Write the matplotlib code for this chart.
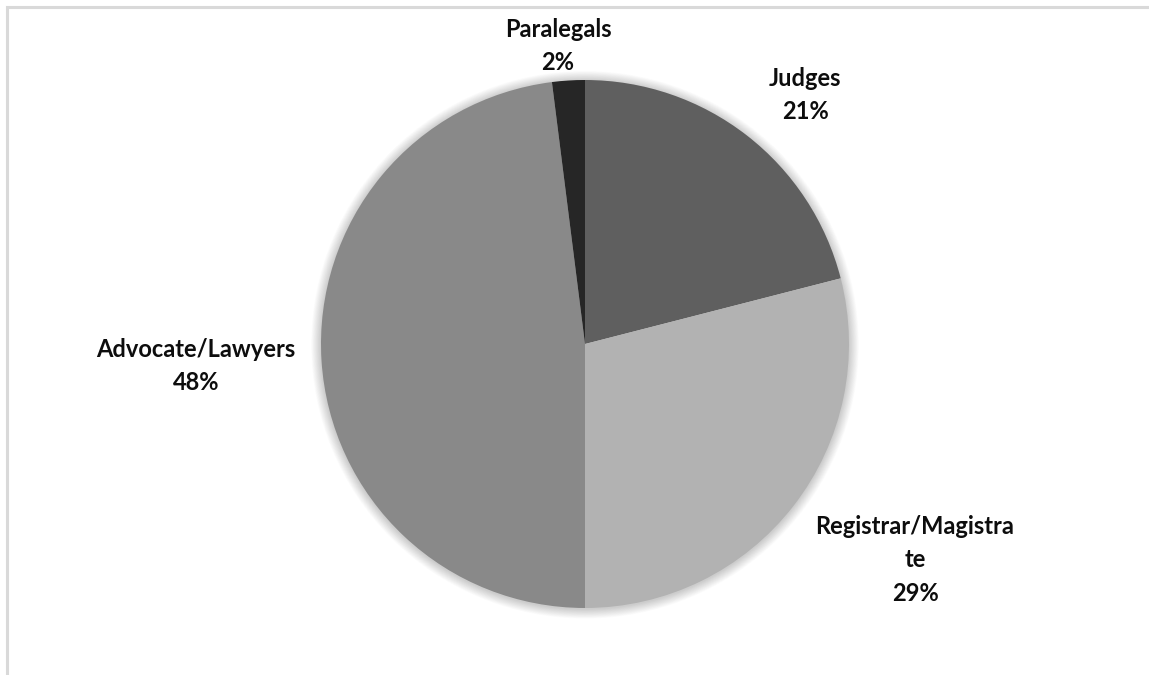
import matplotlib
matplotlib.use("Agg")
import matplotlib.pyplot as plt
from matplotlib.patches import Rectangle, Circle

# pie data, clockwise from 12 o'clock
categories = ["Judges", "Registrar/Magistra\nte", "Advocate/Lawyers", "Paralegals"]
shares = [21, 29, 48, 2]
colors = ["#5f5f5f", "#b2b2b2", "#898989", "#262626"]
# label centres, in pie radii from the centre
label_pos = [(0.834, 0.943), (1.250, -0.818), (-1.474, -0.083), (-0.102, 1.128)]

W, H, DPI = 1149, 675, 100
CENTER = (585, 344)  # pixels from top-left
RADIUS = 264

fig = plt.figure(figsize=(W / DPI, H / DPI), dpi=DPI)
ax = fig.add_axes([0, 0, 1, 1])

# light chart-area border, top and left edges visible
fig.patches.append(Rectangle((7 / W, -0.1), 1.2, 1 - 7 / H + 0.1,
                             transform=fig.transFigure, fill=False,
                             edgecolor="#d9d9d9", linewidth=2.2))

# soft shadow round the pie
for k in range(1, 18):
    ax.add_patch(Circle((0, -0.003), 1 + k * 0.0022, color="black",
                        alpha=0.012, linewidth=0, zorder=0))

wedges, _ = ax.pie(shares, colors=colors, startangle=90, counterclock=False,
                   radius=1, center=(0, 0), frame=True,
                   wedgeprops=dict(linewidth=0, zorder=2))
ax.set_xlim(-CENTER[0] / RADIUS, (W - CENTER[0]) / RADIUS)
ax.set_ylim(-(H - CENTER[1]) / RADIUS, CENTER[1] / RADIUS)
ax.axis("off")

for name, pct, (x, y) in zip(categories, shares, label_pos):
    ax.text(x, y, f"{name}\n{pct}%",
            ha="center", va="center", fontsize=17, fontweight="bold",
            family="Lato", color="#0d0d0d", linespacing=1.55)

fig.savefig("out.png", dpi=DPI, facecolor="white")
